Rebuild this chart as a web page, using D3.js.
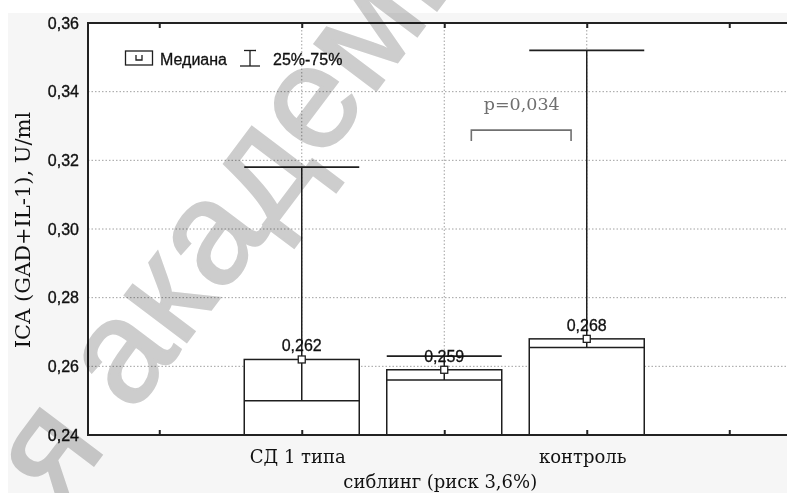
<!DOCTYPE html>
<html>
<head>
<meta charset="utf-8">
<script src="https://cdn.jsdelivr.net/npm/d3@7"></script>
<style>
  html, body { margin: 0; padding: 0; background: #fff; }
  svg { display: block; }
</style>
</head>
<body>
<svg id="chart" width="787" height="493"></svg>
<script>
// ---- data ----
const slots = ["pad0", "СД 1 типа", "сиблинг (риск 3,6%)", "контроль", "pad4"];
const groups = ["СД 1 типа", "сиблинг (риск 3,6%)", "контроль"];
const medians = [0.262, 0.259, 0.268];
const q25 = [0.250, 0.256, 0.2655];
const q75 = [0.318, 0.263, 0.352];
const yTicks = [0.24, 0.26, 0.28, 0.30, 0.32, 0.34, 0.36];
const legendLabels = ["Медиана", "25%-75%"];
const yTitle = "ICA (GAD+IL-1), U/ml";
const pLabel = "p=0,034";
const pBracket = [0.3288, 0.3256]; // bracket top and tick bottom (value units)
const pTextValue = 0.3347;
const watermark = "я академия";

// ---- setup ----
const W = 787, H = 493;
const svg = d3.select("#chart");
const pL = 88, pT = 23, pB = 435, pR = 800.5;
const ru = d3.formatLocale({decimal: ",", thousands: " ", grouping: [3], currency: ["", ""]});
const f2 = ru.format(".2f"), f3 = ru.format(".3f");

const x = d3.scalePoint().domain(slots).range([pL, pR]).padding(0.5);
const y = d3.scaleLinear().domain([0.24, 0.36]).range([pB, pT]);
const step = x.step();
const bw = step * 0.807;

const sans = "'Liberation Sans', Arial, sans-serif";
const serif = "'DejaVu Serif', serif";
const ink = "#1e1e1e";

// figure background
svg.append("rect").attr("x", 0).attr("y", 0).attr("width", W).attr("height", H).attr("fill", "#fff");
svg.append("rect").attr("x", 8).attr("y", 13).attr("width", W - 8).attr("height", H - 13).attr("fill", "#f6f6f6");
// plot area
svg.append("rect").attr("x", pL).attr("y", pT).attr("width", pR - pL).attr("height", pB - pT).attr("fill", "#fff");

// grid
const grid = svg.append("g");
grid.selectAll("line.h").data(yTicks.filter(d => d > 0.24 && d < 0.36)).join("line")
  .attr("x1", pL).attr("x2", pR)
  .attr("y1", d => y(d)).attr("y2", d => y(d))
  .attr("stroke", "#a0a0a0").attr("stroke-width", 1).attr("stroke-dasharray", "1.5,2");
grid.selectAll("line.v").data(groups).join("line")
  .attr("x1", d => x(d)).attr("x2", d => x(d))
  .attr("y1", pT).attr("y2", pB)
  .attr("stroke", "#a0a0a0").attr("stroke-width", 1).attr("stroke-dasharray", "1.5,2");

// bars (0.24 to median)
const g = svg.append("g");
const rows = groups.map((c, i) => ({c, med: medians[i], lo: q25[i], hi: q75[i]}));
g.selectAll("rect.bar").data(rows).join("rect")
  .attr("x", d => x(d.c) - bw / 2).attr("width", bw)
  .attr("y", d => y(d.med)).attr("height", d => y(0.24) - y(d.med))
  .attr("fill", "#fff").attr("stroke", ink).attr("stroke-width", 1.5);
// whiskers
g.selectAll("line.wv").data(rows).join("line")
  .attr("x1", d => x(d.c)).attr("x2", d => x(d.c))
  .attr("y1", d => y(d.lo)).attr("y2", d => y(d.hi))
  .attr("stroke", ink).attr("stroke-width", 1.5);
g.selectAll("line.wlo").data(rows).join("line")
  .attr("x1", d => x(d.c) - bw / 2).attr("x2", d => x(d.c) + bw / 2)
  .attr("y1", d => y(d.lo)).attr("y2", d => y(d.lo))
  .attr("stroke", ink).attr("stroke-width", 1.5);
g.selectAll("line.whi").data(rows).join("line")
  .attr("x1", d => x(d.c) - bw / 2).attr("x2", d => x(d.c) + bw / 2)
  .attr("y1", d => y(d.hi)).attr("y2", d => y(d.hi))
  .attr("stroke", ink).attr("stroke-width", 1.8);
// median markers
g.selectAll("rect.med").data(rows).join("rect")
  .attr("x", d => x(d.c) - 3.5).attr("y", d => y(d.med) - 3.5)
  .attr("width", 7).attr("height", 7)
  .attr("fill", "#fff").attr("stroke", ink).attr("stroke-width", 1.3);
g.selectAll("text.med").data(rows).join("text")
  .attr("x", d => x(d.c)).attr("y", d => y(d.med) - 8)
  .attr("text-anchor", "middle").attr("font-family", sans).attr("font-size", 16)
  .attr("fill", "#111").attr("stroke", "#111").attr("stroke-width", 0.3).text(d => f3(d.med));

// frame & axes
const frame = svg.append("g").attr("stroke", "#222").attr("stroke-width", 2).attr("fill", "none");
frame.append("line").attr("x1", pL).attr("x2", pR).attr("y1", pT).attr("y2", pT);
frame.append("line").attr("x1", pL).attr("x2", pR).attr("y1", pB).attr("y2", pB);
frame.append("line").attr("x1", pL).attr("x2", pL).attr("y1", pT - 1).attr("y2", pB + 1);

const xBottom = d3.axisBottom(x).tickSize(-5).tickFormat("");
const xTop = d3.axisTop(x).tickSize(-5).tickFormat("");
const ab = svg.append("g").attr("transform", `translate(0,${pB})`).call(xBottom);
const at = svg.append("g").attr("transform", `translate(0,${pT})`).call(xTop);
[ab, at].forEach(a => {
  a.select(".domain").remove();
  a.selectAll(".tick line").attr("stroke", "#222").attr("stroke-width", 2);
});

const yAxis = d3.axisLeft(y).tickValues(yTicks).tickSize(0).tickPadding(9).tickFormat(f2);
const ay = svg.append("g").attr("transform", `translate(${pL},0)`).call(yAxis);
ay.select(".domain").remove();
ay.selectAll("text").attr("font-family", sans).attr("font-size", 16).attr("fill", "#111")
  .attr("stroke", "#111").attr("stroke-width", 0.35);

// x category labels (middle one staggered)
svg.selectAll("text.xl").data(groups).join("text")
  .attr("x", d => x(d) - 4)
  .attr("y", (d, i) => i === 1 ? 488 : 463)
  .attr("text-anchor", "middle").attr("font-family", serif).attr("font-size", 18)
  .attr("fill", "#111").text(d => d);

// y title
svg.append("text")
  .attr("transform", `translate(30,${(pT + pB) / 2 + 1}) rotate(-90)`)
  .attr("text-anchor", "middle").attr("font-family", serif).attr("font-size", 21)
  .attr("fill", "#111").text(yTitle);

// legend
const lg = svg.append("g");
lg.append("rect").attr("x", 125.5).attr("y", 51).attr("width", 27).attr("height", 14)
  .attr("fill", "#fff").attr("stroke", ink).attr("stroke-width", 1.3);
lg.append("path").attr("d", "M136,55 V60 H142 V55").attr("fill", "none").attr("stroke", ink).attr("stroke-width", 1.3);
lg.append("text").attr("x", 160).attr("y", 65).attr("font-family", sans).attr("font-size", 16)
  .attr("fill", "#111").attr("stroke", "#111").attr("stroke-width", 0.3).text(legendLabels[0]);
lg.append("line").attr("x1", 250).attr("x2", 250).attr("y1", 50).attr("y2", 66).attr("stroke", ink).attr("stroke-width", 1.3);
lg.append("line").attr("x1", 244).attr("x2", 256).attr("y1", 50.5).attr("y2", 50.5).attr("stroke", ink).attr("stroke-width", 1.3);
lg.append("line").attr("x1", 240).attr("x2", 260).attr("y1", 66).attr("y2", 66).attr("stroke", ink).attr("stroke-width", 1.3);
lg.append("text").attr("x", 273).attr("y", 65).attr("font-family", sans).attr("font-size", 16)
  .attr("fill", "#111").attr("stroke", "#111").attr("stroke-width", 0.3).text(legendLabels[1]);

// p-value annotation
const bx1 = x(groups[1]) + step * 0.19, bx2 = x(groups[2]) - step * 0.11;
svg.append("path")
  .attr("d", `M${bx1},${y(pBracket[1])} V${y(pBracket[0])} H${bx2} V${y(pBracket[1])}`)
  .attr("fill", "none").attr("stroke", "#707070").attr("stroke-width", 1.6);
svg.append("text").attr("x", (bx1 + bx2) / 2 + 0.5).attr("y", y(pTextValue))
  .attr("text-anchor", "middle").attr("font-family", serif).attr("font-size", 17.5)
  .attr("fill", "#6f6f6f").text(pLabel);

// watermark
svg.append("text")
  .attr("transform", "translate(60,510) rotate(-53)")
  .attr("font-family", sans).attr("font-size", 146)
  .attr("fill", "#cdcdcd").attr("stroke", "#cdcdcd").attr("stroke-width", 2.5)
  .style("mix-blend-mode", "multiply")
  .text(watermark);
</script>
</body>
</html>
